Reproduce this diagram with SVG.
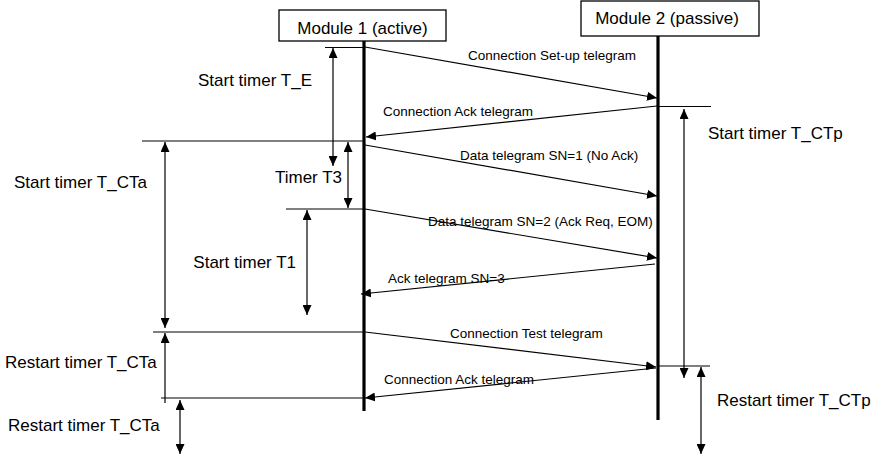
<svg xmlns="http://www.w3.org/2000/svg" width="882" height="455" viewBox="0 0 882 455">
  <style>
    .box { fill: #ffffff; stroke: #000000; stroke-width: 1.3; }
    .life { stroke: #000000; stroke-width: 3.2; fill: none; }
    .ln { stroke: #000000; stroke-width: 1.2; fill: none; }
    .msg { stroke: #000000; stroke-width: 1.2; fill: none; marker-end: url(#tip); }
    .dbl { stroke: #000000; stroke-width: 1.2; fill: none; marker-start: url(#tip); marker-end: url(#tip); }
    .up { stroke: #000000; stroke-width: 1.2; fill: none; marker-start: url(#tip); }
    .dn { stroke: #000000; stroke-width: 1.2; fill: none; marker-end: url(#tip); }
    .big { font-family: "Liberation Sans", Arial, sans-serif; font-size: 17px; fill: #000000; }
    .small { font-family: "Liberation Sans", Arial, sans-serif; font-size: 13.5px; fill: #000000; }
  </style>
  <defs>
    <marker id="tip" markerUnits="userSpaceOnUse" markerWidth="10" markerHeight="9" refX="10" refY="4.5" orient="auto-start-reverse">
      <path d="M0,0 L10,4.5 L0,9 z" fill="#000000"/>
    </marker>
  </defs>

  <rect width="882" height="455" fill="#ffffff"/>

  <!-- participants -->
  <g id="module1">
    <rect class="box" x="279" y="10" width="167" height="31"/>
    <text class="big" x="362.5" y="33.5" text-anchor="middle">Module 1 (active)</text>
    <line class="life" x1="364" y1="41" x2="364" y2="411"/>
  </g>
  <g id="module2">
    <rect class="box" x="581" y="1" width="178" height="35"/>
    <text class="big" x="667" y="23.5" text-anchor="middle">Module 2 (passive)</text>
    <line class="life" x1="658" y1="36" x2="658" y2="420"/>
  </g>

  <!-- telegrams between the modules -->
  <g id="connectors">
    <line class="msg" x1="365" y1="47" x2="657" y2="98"/>
    <text class="small" x="468" y="59.5">Connection Set-up telegram</text>

    <line class="msg" x1="657" y1="106" x2="366" y2="137"/>
    <text class="small" x="383" y="116">Connection Ack telegram</text>

    <line class="msg" x1="365" y1="145" x2="657" y2="196"/>
    <text class="small" x="460" y="159.5">Data telegram SN=1 (No Ack)</text>

    <line class="msg" x1="365" y1="209" x2="657" y2="258"/>
    <text class="small" x="428" y="225.5">Data telegram SN=2 (Ack Req, EOM)</text>

    <line class="msg" x1="655" y1="264" x2="361" y2="294"/>
    <text class="small" x="388" y="282.5">Ack telegram SN=3</text>

    <line class="msg" x1="365" y1="332" x2="656" y2="367"/>
    <text class="small" x="450" y="338">Connection Test telegram</text>

    <line class="msg" x1="656" y1="368" x2="365" y2="398"/>
    <text class="small" x="384" y="383.5">Connection Ack telegram</text>
  </g>

  <!-- reference marks on the lifelines -->
  <g id="marks">
    <line class="ln" x1="325" y1="47.5" x2="364" y2="47.5"/>
    <line class="ln" x1="658" y1="106.5" x2="711" y2="106.5"/>
    <line class="ln" x1="142" y1="141" x2="364" y2="141"/>
    <line class="ln" x1="286" y1="209" x2="364" y2="209"/>
    <line class="ln" x1="153" y1="332" x2="364" y2="332"/>
    <line class="ln" x1="658" y1="366" x2="710" y2="366"/>
    <line class="ln" x1="161" y1="398" x2="364" y2="398"/>
  </g>

  <!-- timers -->
  <g id="timer-te">
    <line class="dbl" x1="333" y1="48" x2="333" y2="166"/>
    <text class="big" x="312" y="86" text-anchor="end">Start timer T_E</text>
  </g>
  <g id="timer-t3">
    <line class="dbl" x1="348" y1="142" x2="348" y2="208"/>
    <text class="big" x="342" y="183" text-anchor="end">Timer T3</text>
  </g>
  <g id="timer-cta">
    <line class="dbl" x1="165" y1="142" x2="165" y2="328"/>
    <text class="big" x="14" y="188">Start timer T_CTa</text>
  </g>
  <g id="timer-t1">
    <line class="dbl" x1="307" y1="210" x2="307" y2="315"/>
    <text class="big" x="296" y="267.5" text-anchor="end">Start timer T1</text>
  </g>
  <g id="timer-cta-restart1">
    <line class="up" x1="165" y1="333" x2="165" y2="403"/>
    <text class="big" x="5" y="367.5">Restart timer T_CTa</text>
  </g>
  <g id="timer-cta-restart2">
    <line class="dbl" x1="180" y1="400" x2="180" y2="454"/>
    <text class="big" x="8" y="430.5">Restart timer T_CTa</text>
  </g>
  <g id="timer-ctp">
    <line class="dbl" x1="684" y1="109" x2="684" y2="378"/>
    <text class="big" x="708" y="139">Start timer T_CTp</text>
  </g>
  <g id="timer-ctp-restart">
    <line class="dbl" x1="701" y1="367" x2="701" y2="454"/>
    <text class="big" x="717" y="406">Restart timer T_CTp</text>
  </g>
</svg>
